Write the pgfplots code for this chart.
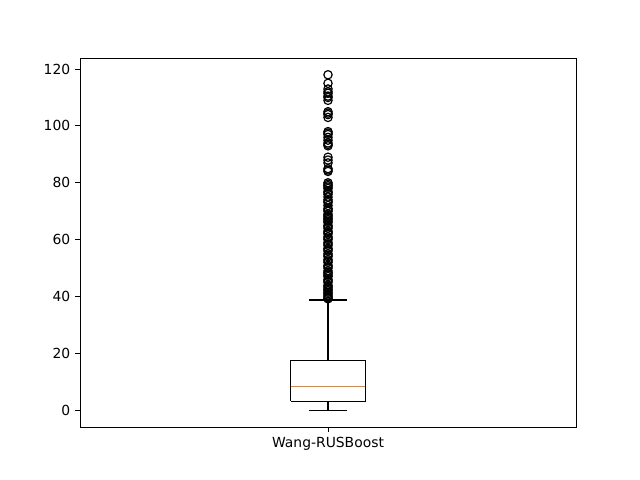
\documentclass[border=0pt]{standalone}
\usepackage{pgfplots}
\pgfplotsset{compat=1.18}
\usepackage{fontspec}
\setmainfont{DejaVu Sans}
\definecolor{mplorange}{HTML}{FF7F0E}
\begin{document}
\begin{tikzpicture}
\path[use as bounding box] (0pt,0pt) rectangle (460.8pt,345.6pt);
\begin{axis}[
  at={(57.6pt,38.16pt)}, anchor=south west,
  width=357.12pt, height=265.68pt, scale only axis,
  xmin=0.5, xmax=1.5, ymin=-5.9, ymax=123.9,
  xtick={1}, xticklabels={Wang-RUSBoost},
  ytick={0,20,40,60,80,100,120},
  tick align=outside, tick style={black, line width=0.65pt},
  major tick length=3.5pt,
  xtick pos=bottom, ytick pos=left,
  axis line style={line width=0.65pt},
  tick label style={font=\fontsize{10}{12}\selectfont},
  /pgf/number format/assume math mode=true,
  clip=false,
]
% box
\addplot[black, line width=0.85pt, mark=none] coordinates {(0.925,3.2)(1.075,3.2)(1.075,17.6)(0.925,17.6)(0.925,3.2)};
% whiskers
\addplot[black, line width=0.85pt, mark=none] coordinates {(1,3.2)(1,0)};
\addplot[black, line width=0.85pt, mark=none] coordinates {(0.9625,0)(1.0375,0)};
\addplot[black, line width=0.85pt, mark=none] coordinates {(1,17.6)(1,38.8)};
\addplot[black, line width=0.85pt, mark=none] coordinates {(0.9625,38.8)(1.0375,38.8)};
% median
\addplot[mplorange, line width=0.85pt, mark=none] coordinates {(0.925,8.4)(1.075,8.4)};
% outliers
\addplot[only marks, mark=o, mark size=3pt, mark options={black, line width=0.85pt}] coordinates {
(1,118)(1,115)(1,113)(1,112)(1,111.5)(1,110.5)(1,110)(1,109)(1,105)(1,104.5)(1,104)(1,103)
(1,98)(1,97.5)(1,97)(1,96)(1,95)(1,94)(1,93.5)(1,93)(1,89)(1,88)(1,87)(1,85)(1,84.5)(1,84)
(1,80)(1,79.5)(1,79)(1,78.5)(1,78)(1,77)(1,76.5)(1,76)(1,75)(1,74)(1,73.5)(1,73)(1,72)(1,71)(1,70.5)(1,70)
(1,69)(1,68.5)(1,68)(1,67.5)(1,67)(1,66.5)(1,66)(1,65)(1,64.5)(1,64)(1,63)(1,62.5)(1,62)(1,61)(1,60.5)(1,60)
(1,59)(1,58.5)(1,58)(1,57)(1,56.5)(1,56)(1,55)(1,54.5)(1,54)(1,53)(1,52.5)(1,52)(1,51)(1,50.5)(1,50)
(1,49)(1,48.5)(1,48)(1,47.5)(1,47)(1,46)(1,45.5)(1,45)(1,44)(1,43.5)(1,43)(1,42.5)(1,42)(1,41.5)(1,41)(1,40.5)(1,40)(1,39.5)(1,39.2)
};
\end{axis}
\end{tikzpicture}
\end{document}
